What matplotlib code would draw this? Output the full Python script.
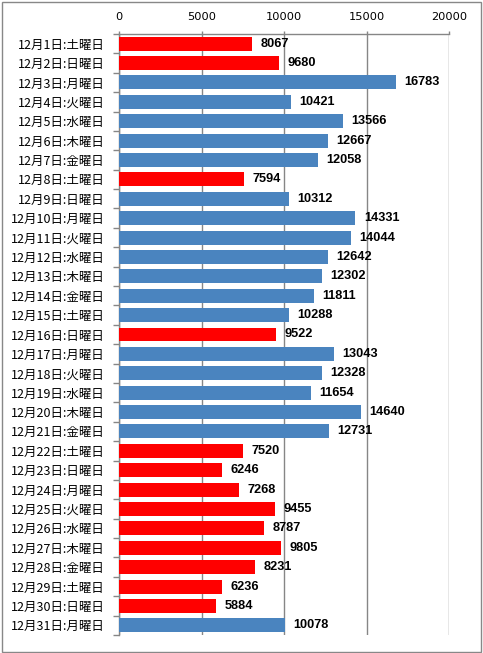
import matplotlib.pyplot as plt
from matplotlib.patches import Rectangle

plt.rcParams['font.family'] = ['Noto Sans CJK JP', 'DejaVu Sans']

days = list(range(1, 32))
weekdays = ['土', '日', '月', '火', '水', '木', '金']
values = [8067, 9680, 16783, 10421, 13566, 12667, 12058, 7594, 10312, 14331,
          14044, 12642, 12302, 11811, 10288, 9522, 13043, 12328, 11654, 14640,
          12731, 7520, 6246, 7268, 9455, 8787, 9805, 8231, 6236, 5884, 10078]
# 赤で塗られている日
red_days = [1, 2, 8, 16, 22, 23, 24, 25, 26, 27, 28, 29, 30]

labels = ['12月%d日:%s曜日' % (d, weekdays[(d - 1) % 7]) for d in days]
colors = ['#FF0000' if d in red_days else '#4A84BF' for d in days]

fig = plt.figure(figsize=(4.83, 6.53), dpi=100)
ax = fig.add_axes([119 / 483, 1 - 635 / 653, 330 / 483, 601 / 653])

pos = list(range(len(days)))
ax.barh(pos, values, height=0.72, color=colors, zorder=3)

for p, v in zip(pos, values):
    ax.annotate(str(v), (v, p), xytext=(6, 0), textcoords='offset points',
                va='center', ha='left', fontsize=9.2, fontweight='bold',
                family='Liberation Sans', zorder=4)

ax.set_xlim(0, 20000)
ax.set_ylim(len(days) - 0.5, -0.5)
ax.set_xticks([0, 5000, 10000, 15000, 20000])
ax.xaxis.tick_top()
ax.tick_params(axis='x', direction='out', length=2.5, width=1, color='#868686',
               pad=6.5)
for t in ax.get_xticklabels():
    t.set_family('DejaVu Sans')
    t.set_fontsize(8.2)

ax.set_yticks(pos)
ax.set_yticklabels(labels, fontsize=9)
ax.tick_params(axis='y', which='major', length=0, pad=10)
ax.set_yticks([p - 0.5 for p in pos] + [len(days) - 0.5], minor=True)
ax.tick_params(axis='y', which='minor', direction='out', length=4, width=1,
               color='#868686')

ax.grid(axis='x', color='#868686', linewidth=1, zorder=0)
ax.set_axisbelow(True)
for s in ['right', 'bottom']:
    ax.spines[s].set_visible(False)
for s in ['top', 'left']:
    ax.spines[s].set_color('#868686')
    ax.spines[s].set_linewidth(1)

fig.add_artist(Rectangle((1.5 / 483, 1.5 / 653), 479.5 / 483, 649.5 / 653,
                         transform=fig.transFigure, fill=False,
                         edgecolor='#888888', linewidth=1))

fig.savefig('out.png', dpi=100)
